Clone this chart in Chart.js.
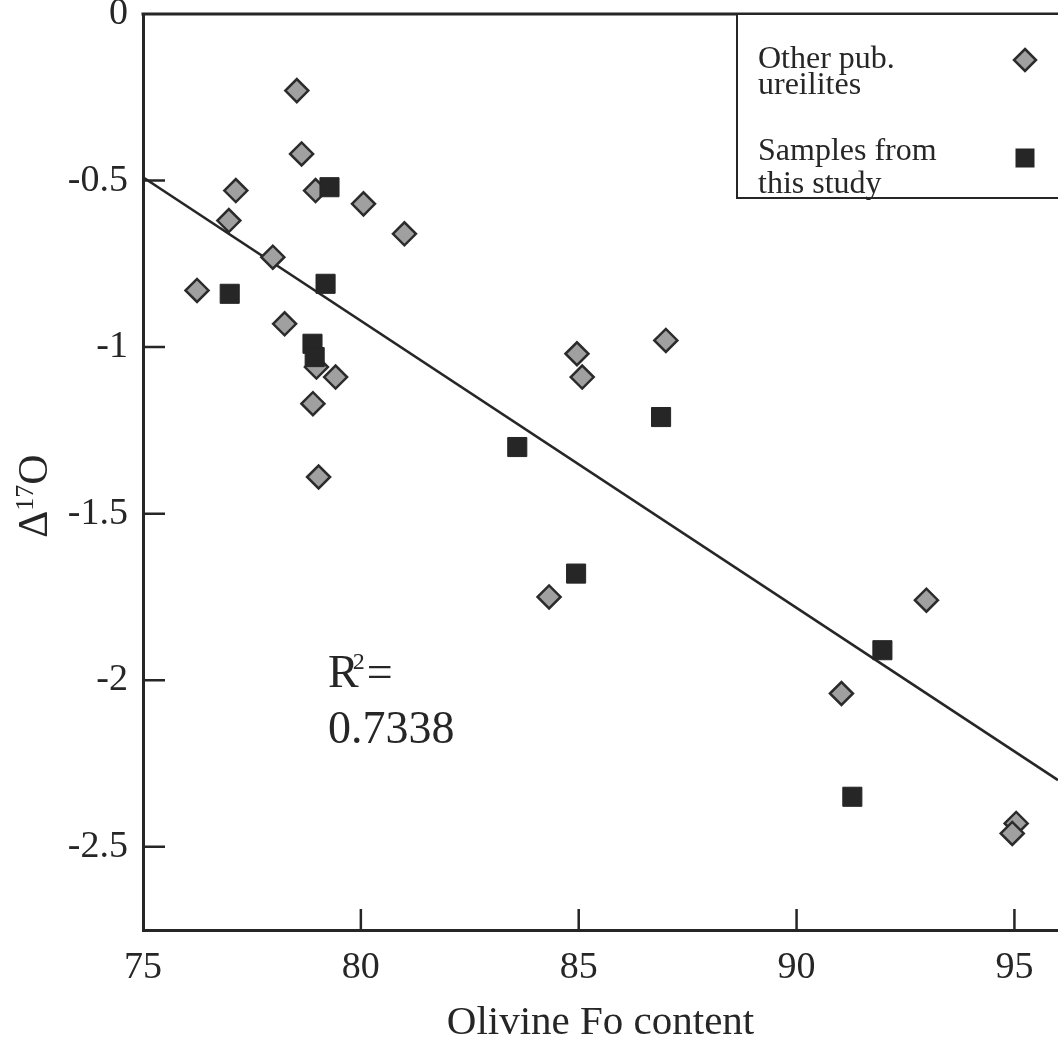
<!DOCTYPE html>
<html lang="en">
<head>
<meta charset="UTF-8">
<title>Delta 17O vs Olivine Fo</title>
<script src="https://cdn.jsdelivr.net/npm/chart.js"></script>
<style>
  html, body { margin: 0; padding: 0; background: #fff; }
  #wrap { width: 1058px; height: 1048px; }
</style>
</head>
<body>
<div id="wrap"><canvas id="chart" width="1058" height="1048"></canvas></div>
<script>
// data
const otherFo  = [78.53, 78.64, 77.13, 78.96, 76.97, 80.06, 81.0, 77.98, 76.24, 78.25, 78.98,
                  79.42, 78.9, 79.03, 84.96, 85.08, 87.0, 84.32, 92.98, 91.03, 95.04, 94.95];
const otherD17 = [-0.23, -0.42, -0.53, -0.53, -0.62, -0.57, -0.66, -0.73, -0.83, -0.93, -1.06,
                  -1.09, -1.17, -1.39, -1.02, -1.09, -0.98, -1.75, -1.76, -2.04, -2.43, -2.46];
const studyFo  = [79.28, 76.99, 79.19, 78.89, 78.94, 83.59, 86.89, 84.94, 91.97, 91.28];
const studyD17 = [-0.52, -0.84, -0.81, -0.99, -1.03, -1.30, -1.21, -1.68, -1.91, -2.35];
const fitFo  = [75, 96];
const fitD17 = [-0.49, -2.30];
const xTicks = [75, 80, 85, 90, 95];
const yTicks = [0, -0.5, -1, -1.5, -2, -2.5];
const legendLines = [['Other pub.', 'ureilites'], ['Samples from', 'this study']];
const r2Value = '0.7338';

const ink = '#262626';
const serif = '"Liberation Serif", "Times New Roman", serif';

const toPts = (xs, ys) => xs.map((v, i) => ({ x: v, y: ys[i] }));

const decor = {
  id: 'decor',
  afterDraw(chart) {
    const { ctx, chartArea: a, scales: { x, y } } = chart;
    ctx.save();
    ctx.strokeStyle = ink;
    ctx.lineWidth = 3;
    ctx.beginPath();
    ctx.moveTo(a.left - 1.5, a.top);
    ctx.lineTo(a.right, a.top);
    ctx.stroke();

    // ticks pointing into the plot
    ctx.lineWidth = 2.5;
    ctx.beginPath();
    xTicks.forEach(v => {
      if (v === x.min) return;
      const px = x.getPixelForValue(v);
      ctx.moveTo(px, a.bottom);
      ctx.lineTo(px, a.bottom - 21);
    });
    yTicks.forEach(v => {
      if (v === y.max) return;
      const py = y.getPixelForValue(v);
      ctx.moveTo(a.left, py);
      ctx.lineTo(a.left + 22, py);
    });
    ctx.stroke();

    // legend box
    const bx = 737, by = a.top, bh = 184;
    ctx.fillStyle = '#fff';
    ctx.fillRect(bx, by, a.right - bx + 10, bh);
    ctx.lineWidth = 2;
    ctx.strokeRect(bx, by, a.right - bx + 10, bh);
    ctx.fillStyle = ink;
    ctx.font = '32px ' + serif;
    ctx.textAlign = 'left';
    ctx.textBaseline = 'alphabetic';
    ctx.fillText(legendLines[0][0], 758, 68);
    ctx.fillText(legendLines[0][1], 758, 94);
    ctx.fillText(legendLines[1][0], 758, 160);
    ctx.fillText(legendLines[1][1], 758, 193);

    // legend markers
    const mx = 1025;
    ctx.beginPath();
    ctx.moveTo(mx, 60 - 11); ctx.lineTo(mx + 11, 60); ctx.lineTo(mx, 60 + 11); ctx.lineTo(mx - 11, 60);
    ctx.closePath();
    ctx.fillStyle = '#a0a0a0';
    ctx.fill();
    ctx.lineWidth = 2.5;
    ctx.strokeStyle = '#2b2b2b';
    ctx.stroke();
    ctx.fillStyle = ink;
    ctx.fillRect(mx - 9.5, 158 - 9.5, 19, 19);

    // R^2 annotation
    ctx.fillStyle = ink;
    ctx.font = '46px ' + serif;
    ctx.fillText('R', 328, 687);
    const rw = ctx.measureText('R').width;
    ctx.font = '24px ' + serif;
    ctx.fillText('2', 328 + rw - 6, 669);
    ctx.font = '46px ' + serif;
    ctx.fillText('=', 328 + rw + 8, 687);
    ctx.fillText(r2Value, 328, 743);

    // x axis title
    ctx.font = '41px ' + serif;
    ctx.textAlign = 'center';
    ctx.fillText('Olivine Fo content', (a.left + a.right) / 2, 1034);

    // y axis title, rotated
    ctx.translate(47, 496);
    ctx.rotate(-Math.PI / 2);
    ctx.textAlign = 'left';
    ctx.font = '42px ' + serif;
    const wD = ctx.measureText('\u0394').width;
    const wO = ctx.measureText('O').width;
    ctx.font = '26px ' + serif;
    const w17 = ctx.measureText('17').width;
    let sx = -(wD + w17 + wO) / 2;
    ctx.font = '42px ' + serif;
    ctx.fillText('\u0394', sx, 0);
    sx += wD;
    ctx.font = '26px ' + serif;
    ctx.fillText('17', sx, -14);
    sx += w17;
    ctx.font = '42px ' + serif;
    ctx.fillText('O', sx, 0);
    ctx.restore();
  }
};

new Chart(document.getElementById('chart'), {
  type: 'scatter',
  data: {
    datasets: [
      {
        label: legendLines[0].join(' '),
        data: toPts(otherFo, otherD17),
        pointStyle: 'rectRot',
        pointRadius: 11.5,
        backgroundColor: '#a0a0a0',
        borderColor: '#2b2b2b',
        borderWidth: 2.5,
        order: 1
      },
      {
        label: legendLines[1].join(' '),
        data: toPts(studyFo, studyD17),
        pointStyle: 'rect',
        pointRadius: 13.5,
        backgroundColor: ink,
        borderColor: ink,
        borderWidth: 1,
        order: 0
      },
      {
        type: 'line',
        label: 'fit',
        data: toPts(fitFo, fitD17),
        borderColor: ink,
        borderWidth: 2.5,
        pointRadius: 0,
        fill: false,
        order: 2
      }
    ]
  },
  options: {
    responsive: false,
    animation: false,
    devicePixelRatio: 1,
    layout: { autoPadding: false, padding: { top: 14, right: 0, bottom: 0, left: 0 } },
    plugins: { legend: { display: false }, tooltip: { enabled: false } },
    scales: {
      x: {
        type: 'linear',
        min: 75,
        max: 96,
        afterBuildTicks: s => { s.ticks = xTicks.map(v => ({ value: v })); },
        afterFit: s => { s.height = 118; s.paddingLeft = 0; s.paddingRight = 0; },
        grid: { drawOnChartArea: false, drawTicks: false },
        border: { display: true, color: ink, width: 3 },
        ticks: { color: ink, padding: 15, font: { family: serif, size: 38 }, callback: v => String(v) }
      },
      y: {
        type: 'linear',
        min: -2.75,
        max: 0,
        afterBuildTicks: s => { s.ticks = yTicks.map(v => ({ value: v })); },
        afterFit: s => { s.width = 143; s.paddingTop = 0; s.paddingBottom = 0; },
        grid: { drawOnChartArea: false, drawTicks: false },
        border: { display: true, color: ink, width: 3 },
        ticks: { color: ink, padding: 15, font: { family: serif, size: 38 }, callback: v => String(v) }
      }
    }
  },
  plugins: [decor]
});
</script>
</body>
</html>
